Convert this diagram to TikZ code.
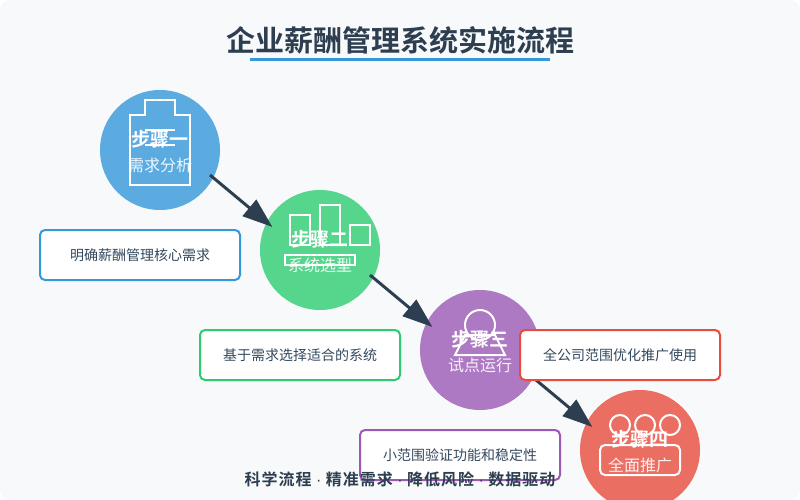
\documentclass[tikz,border=0pt]{standalone}
\usepackage{fontspec}
\usetikzlibrary{calc,arrows.meta}
\setmainfont{Noto Sans CJK SC}[BoldFont={Noto Sans CJK SC Bold}]
\newfontfamily\dotfont{Liberation Sans}
\definecolor{bgc}{HTML}{F8F9FA}
\definecolor{ink}{HTML}{2C3E50}
\definecolor{ctxt}{HTML}{34495E}
\definecolor{cb}{HTML}{3498DB}
\definecolor{cg}{HTML}{2ECC71}
\definecolor{cp}{HTML}{9B59B6}
\definecolor{cr}{HTML}{E74C3C}
\tikzset{
  stepc/.style={circle,minimum size=120pt,inner sep=0pt,fill opacity=.8},
  icon/.style={draw=white,line width=2pt},
  steptitle/.style={text=white,font=\fontsize{19}{19}\selectfont\bfseries,inner sep=0pt},
  stepsub/.style={text=white,text opacity=.9,font=\fontsize{16}{16}\selectfont,inner sep=0pt},
  note/.style={draw,line width=2pt,fill=white,rounded corners=5pt,minimum width=200pt,minimum height=50pt,inner sep=0pt,text=ctxt,font=\fontsize{14}{14}\selectfont},
  flow/.style={draw=ink,line width=3pt,-{Triangle[length=30pt,width=21pt]}},
}
\newcommand{\sepdot}{{\dotfont\mdseries\ ·\ }}
\begin{document}
\begin{tikzpicture}[x=1pt,y=-1pt]
\useasboundingbox (0,0) rectangle (800,500);
\fill[bgc,rounded corners=10pt] (0,0) rectangle (800,500);
\node[text=ink,inner sep=0pt,font=\fontsize{29}{29}\selectfont\bfseries] (title) at (400,40.5) {企业薪酬管理系统实施流程};
\fill[cb] (250,58.5) rectangle (550,61.5);
% circles
\node[stepc,fill=cb] (c1) at (160,150) {};
\node[stepc,fill=cg] (c2) at (320,250) {};
\node[stepc,fill=cp] (c3) at (480,350) {};
\node[stepc,fill=cr] (c4) at (640,450) {};
% icons
\draw[icon] (145,115) -- (145,100) -- (175,100) -- (175,115) -- (190,115) -- (190,185) -- (130,185) -- (130,115) -- cycle;
\draw[icon] (145,130) -- (175,130) (145,145) -- (175,145);
\draw[icon] (290,215) rectangle (310,245);
\draw[icon] (320,205) rectangle (340,245);
\draw[icon] (350,225) rectangle (370,245);
\draw[icon] (285,255) rectangle (355,265);
\draw[icon] (480,325) circle (15pt);
\draw[icon] (455,355) -- (505,355) -- (495,335) -- (465,335) -- cycle;
\draw[icon] (620,425) circle (10pt);
\draw[icon] (645,425) circle (10pt);
\draw[icon] (670,425) circle (10pt);
\draw[icon,rounded corners=5pt] (600,445) rectangle (680,475);
% labels
\node[steptitle] (s1) at (160,139) {步骤一};
\node[stepsub] (t1) at (160,165) {需求分析};
\node[steptitle] (s2) at (320,239) {步骤二};
\node[stepsub] (t2) at (320,265) {系统选型};
\node[steptitle] (s3) at (480,339) {步骤三};
\node[stepsub] (t3) at (480,365) {试点运行};
\node[steptitle] (s4) at (640,439) {步骤四};
\node[stepsub] (t4) at (640,465) {全面推广};
% connectors
\coordinate (a1) at ($(c1)+(50,25)$); \coordinate (b1) at ($(c2)+(-50,-25)$);
\coordinate (a2) at ($(c2)+(50,25)$); \coordinate (b2) at ($(c3)+(-50,-25)$);
\coordinate (a3) at ($(c3)+(50,25)$); \coordinate (b3) at ($(c4)+(-50,-25)$);
\draw[flow] (a1) -- ($(a1)!1.04!(b1)$);
\draw[flow] (a2) -- ($(a2)!1.04!(b2)$);
\draw[flow] (a3) -- ($(a3)!1.04!(b3)$);
% notes
\node[note,draw=cb] (n1) at (140,255) {明确薪酬管理核心需求};
\node[note,draw=cg] (n2) at (300,355) {基于需求选择适合的系统};
\node[note,draw=cr] (n4) at (620,355) {全公司范围优化推广使用};
\node[note,draw=cp] (n3) at (460,455) {小范围验证功能和稳定性};
\node[text=ink,inner sep=0pt,font=\fontsize{16}{16}\selectfont\bfseries\addfontfeatures{LetterSpace=6.25}] (foot) at (400,479) {科学流程\sepdot 精准需求\sepdot 降低风险\sepdot 数据驱动};
\end{tikzpicture}
\end{document}
